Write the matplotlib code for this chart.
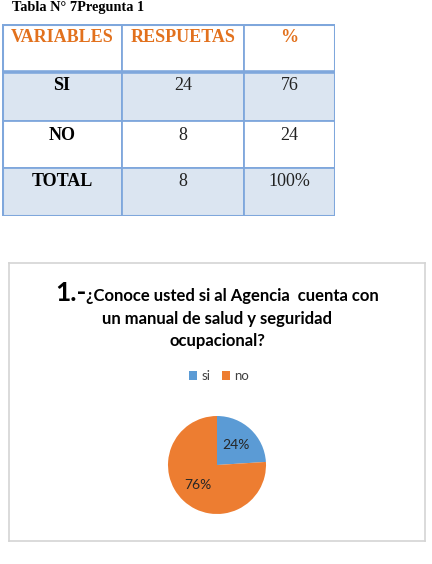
import matplotlib
matplotlib.use("Agg")
import matplotlib.pyplot as plt
from matplotlib.patches import Rectangle

# table data
col_headers = ["VARIABLES", "RESPUETAS", "%"]
row_labels = ["SI", "NO", "TOTAL"]
respuestas = ["24", "8", "8"]
porcentajes = ["76", "24", "100%"]

# pie data
pie_labels = ["si", "no"]
pie_values = [24, 76]
pie_colors = ["#5b9bd5", "#ed7d31"]

W, H = 432, 564
fig = plt.figure(figsize=(W / 100, H / 100), dpi=100)
fig.patch.set_facecolor("white")


def fbox(x0, y0, x1, y1):
    # pixel box (top-left origin) -> figure fraction rect
    return [x0 / W, 1 - y1 / H, (x1 - x0) / W, (y1 - y0) / H]


# caption at the top edge
fig.text(12 / W, 1 - 11 / H, "Tabla N° 7Pregunta 1", family="Liberation Serif",
         weight="bold", fontsize=10.3, va="baseline", ha="left")

# ---- table ----
tax = fig.add_axes(fbox(2, 24, 335, 216))
col_w = [120, 122, 91]
row_h = [48, 49, 47, 48]
edges_x = [0]
for w in col_w:
    edges_x.append(edges_x[-1] + w)
edges_y = [0]
for h in row_h:
    edges_y.append(edges_y[-1] + h)
tax.set_xlim(0, edges_x[-1])
tax.set_ylim(edges_y[-1], 0)
tax.axis("off")

rows = [col_headers] + [[r, a, p] for r, a, p in zip(row_labels, respuestas, porcentajes)]
fills = ["white", "#dbe5f1", "white", "#dbe5f1"]
border = "#7fa7dc"
for i, row in enumerate(rows):
    for j, txt in enumerate(row):
        x0, y0 = edges_x[j], edges_y[i]
        tax.add_patch(Rectangle((x0, y0), col_w[j], row_h[i], facecolor=fills[i],
                                edgecolor=border, lw=1.3))
        if i == 0:
            kw = dict(color="#e2711d", weight="bold", fontsize=13)
        elif j == 0:
            kw = dict(color="black", weight="bold", fontsize=13)
        else:
            kw = dict(color="#222222", fontsize=13)
        tax.text(x0 + col_w[j] / 2, y0 + 14, txt, ha="center", va="center",
                 family="Liberation Serif", **kw)
tax.plot([0, edges_x[-1]], [edges_y[1], edges_y[1]], color=border, lw=2.6)
tax.add_patch(Rectangle((0, 0), edges_x[-1], edges_y[-1], fill=False,
                        edgecolor=border, lw=2.2))

# ---- chart box ----
bax = fig.add_axes(fbox(9, 263, 425, 541))
bax.set_xticks([])
bax.set_yticks([])
for s in bax.spines.values():
    s.set_color("#d4d4d4")
    s.set_linewidth(1.2)

fig.text(55 / W, 1 - 301 / H, "1.-", family="Lato", weight="bold", fontsize=19,
         ha="left", va="baseline")
fig.text(86 / W, 1 - 301 / H, "¿Conoce usted si al Agencia  cuenta con",
         family="Lato", weight="bold", fontsize=12, ha="left", va="baseline")
fig.text(217 / W, 1 - 324 / H, "un manual de salud y seguridad",
         family="Lato", weight="bold", fontsize=12, ha="center", va="baseline")
fig.text(217 / W, 1 - 346 / H, "ocupacional?",
         family="Lato", weight="bold", fontsize=12, ha="center", va="baseline")

# ---- pie ----
pax = fig.add_axes(fbox(167, 415, 267, 515))
wedges, _, autotexts = pax.pie(pie_values, colors=pie_colors, startangle=90,
                               counterclock=False, radius=0.98,
                               autopct="%1.0f%%", pctdistance=0.56,
                               wedgeprops=dict(linewidth=0))
for t in autotexts:
    t.set_fontsize(10)
    t.set_family("Lato")
    t.set_color("#262626")
pax.set_xlim(-1, 1)
pax.set_ylim(-1, 1)
pax.set_aspect("equal")

leg = fig.legend(wedges, pie_labels, loc="center", bbox_to_anchor=(219 / W, 1 - 376 / H),
                 ncol=2, frameon=False, handlelength=0.6,
                 handleheight=0.6, handletextpad=0.3, columnspacing=0.9,
                 prop=dict(family="Lato", size=9.5))
for t in leg.get_texts():
    t.set_color("#404040")

fig.savefig("out.png", dpi=100)
